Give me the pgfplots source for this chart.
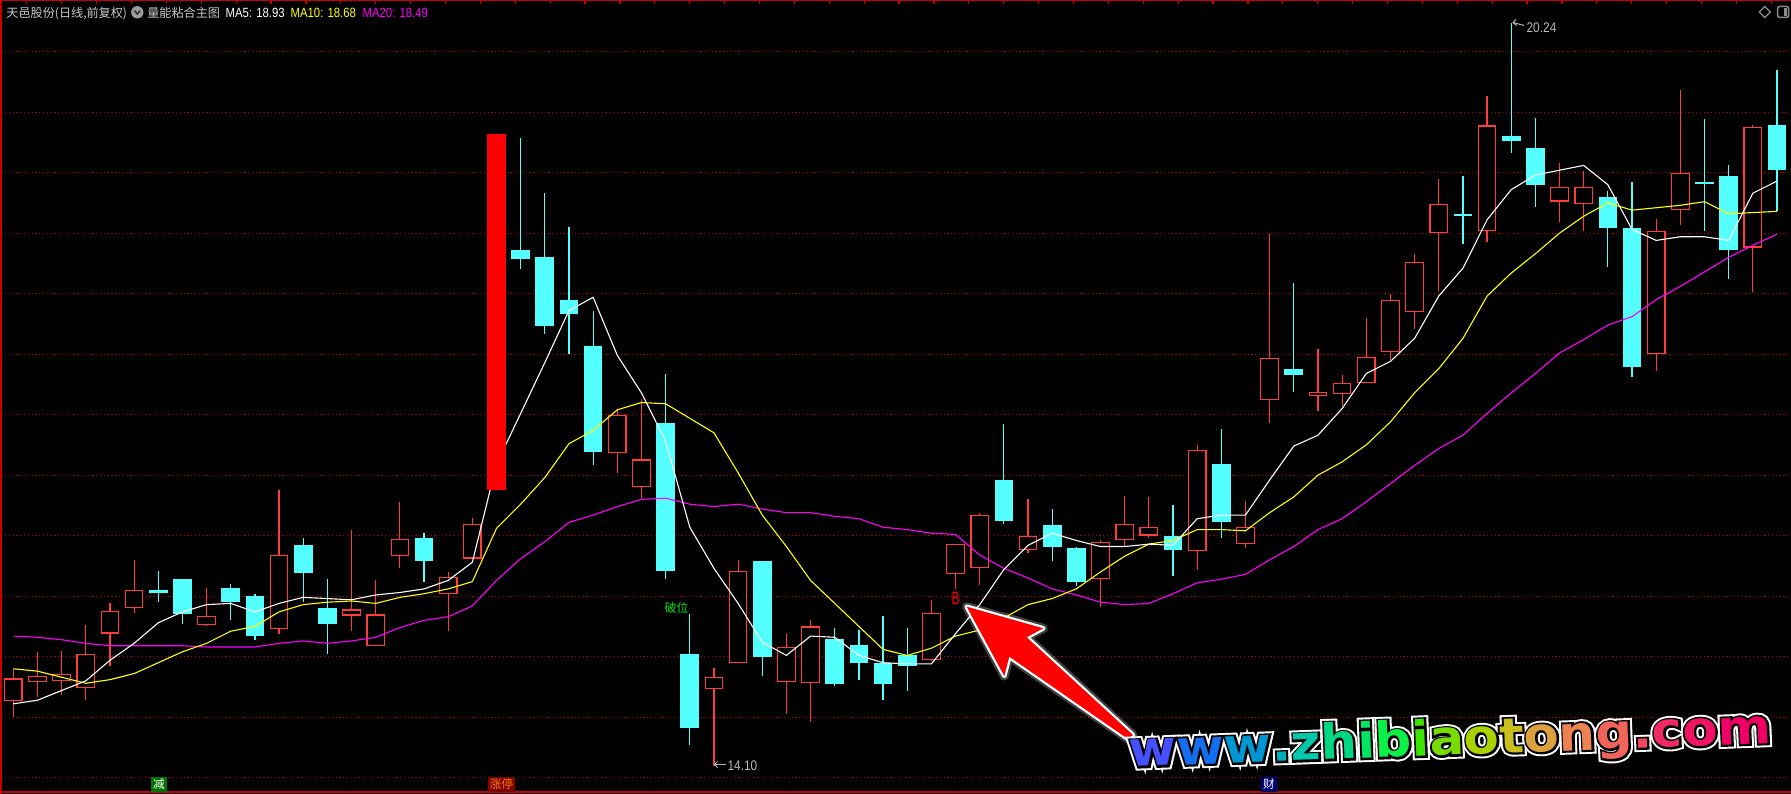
\documentclass[border=0pt]{standalone}
\usepackage{fontspec}
\setmainfont{Liberation Sans}
\newfontfamily\cjk{Noto Sans CJK SC}
\newfontfamily\wmfont{DejaVu Sans Bold}
\newfontfamily\wmfontA{DejaVu Sans Bold}[FakeBold=16]
\newfontfamily\wmfontB{DejaVu Sans Bold}[FakeBold=8]
\usepackage{pgfplots}
\usepackage{pgfplotstable}
\pgfplotsset{compat=1.18}

\definecolor{upred}{RGB}{255,60,60}
\definecolor{limitred}{RGB}{255,0,0}
\definecolor{dncyan}{RGB}{84,255,255}
\definecolor{gridred}{RGB}{175,0,0}
\definecolor{framered}{RGB}{200,0,0}
\definecolor{hdrgray}{RGB}{200,200,200}
\definecolor{lblgray}{RGB}{185,185,185}
\definecolor{icongray}{RGB}{140,140,140}
\definecolor{ma10c}{RGB}{255,255,0}
\definecolor{ma20c}{RGB}{255,0,255}
\definecolor{bwgreen}{RGB}{0,225,0}
% watermark letters
\definecolor{wa}{RGB}{70,80,255}
\definecolor{wb}{RGB}{20,110,240}
\definecolor{wc}{RGB}{0,150,210}
\definecolor{wd}{RGB}{0,175,190}
\definecolor{we}{RGB}{0,200,170}
\definecolor{wf}{RGB}{0,215,130}
\definecolor{wg}{RGB}{0,230,100}
\definecolor{wh}{RGB}{10,240,70}
\definecolor{wi}{RGB}{60,230,0}
\definecolor{wj}{RGB}{120,220,0}
\definecolor{wk}{RGB}{170,210,0}
\definecolor{wl}{RGB}{200,190,30}
\definecolor{wm}{RGB}{220,160,60}
\definecolor{wn}{RGB}{235,130,80}
\definecolor{wo}{RGB}{240,100,90}
\definecolor{wp}{RGB}{240,70,100}
\definecolor{wq}{RGB}{240,40,100}
\definecolor{wr}{RGB}{240,20,100}
\definecolor{ws}{RGB}{240,0,100}

\newcommand\wmstr{\wmc{wa}{w}\wmc{wb}{w}\wmc{wc}{w}\wmc{wd}{.}\wmc{we}{z}\wmc{wf}{h}\wmc{wg}{i}\wmc{wh}{b}\wmc{wi}{i}\wmc{wj}{a}\wmc{wk}{o}\wmc{wl}{t}\wmc{wm}{o}\wmc{wn}{n}\wmc{wo}{g}\wmc{wp}{.}\wmc{wq}{c}\wmc{wr}{o}\wmc{ws}{m}}
\newcommand\wmplain[2]{\textcolor{.}{#2}}
\newcommand\wmcolor[2]{\textcolor{#1}{#2}}

% up candles (close > open), hollow red
\pgfplotstableread{
i O H L C
0 14.63 14.90 14.50 14.82
1 14.79 15.04 14.67 14.84
2 14.80 15.05 14.68 14.86
3 14.74 15.26 14.64 15.02
4 15.19 15.44 14.92 15.38
5 15.40 15.80 15.36 15.55
8 15.26 15.57 15.25 15.34
11 15.23 16.38 15.19 15.84
14 15.34 16.05 15.21 15.39
15 15.09 15.63 15.09 15.35
16 15.83 16.28 15.73 15.97
18 15.52 15.70 15.21 15.66
19 15.81 16.15 15.81 16.10
25 16.68 17.04 16.52 17.00
26 16.40 17.13 16.31 16.63
29 14.73 14.91 14.10 14.83
30 14.95 15.80 14.95 15.71
32 14.79 15.19 14.53 15.08
33 14.78 15.30 14.46 15.25
38 14.97 15.47 14.96 15.36
39 15.68 15.93 15.56 15.93
40 15.73 16.19 15.59 16.17
42 15.88 16.30 15.86 16.00
45 15.64 15.96 15.41 15.95
46 15.96 16.33 15.91 16.10
47 16.00 16.32 15.98 16.07
49 15.87 16.75 15.72 16.71
51 15.93 16.29 15.90 16.07
52 17.12 18.49 16.93 17.47
54 17.15 17.54 17.03 17.19
55 17.17 17.33 17.07 17.26
56 17.26 17.80 17.26 17.48
57 17.52 18.00 17.45 17.95
58 17.85 18.33 17.71 18.26
59 18.50 18.95 18.02 18.74
61 18.52 19.63 18.43 19.39
64 18.76 19.08 18.59 18.88
65 18.74 19.01 18.52 18.88
68 17.50 18.62 17.36 18.52
69 18.69 19.68 18.57 19.00
72 18.38 19.39 18.01 19.38
}\upt

% limit-up day, solid red
\pgfplotstableread{
i O H L C
20 16.38 19.32 16.38 19.32
}\limt

% down candles, filled cyan
\pgfplotstableread{
i O H L C
6 15.55 15.71 15.45 15.53
7 15.64 15.64 15.27 15.35
9 15.57 15.60 15.30 15.45
10 15.50 15.52 15.14 15.17
12 15.92 15.98 15.45 15.69
13 15.40 15.64 15.02 15.27
17 15.98 16.02 15.62 15.79
21 18.36 19.29 18.20 18.29
22 18.30 18.83 17.67 17.73
23 17.95 18.55 17.50 17.83
24 17.57 17.86 16.58 16.69
27 16.93 17.34 15.64 15.71
28 15.02 15.35 14.27 14.41
31 15.79 15.79 14.84 15.00
34 15.15 15.24 14.76 14.77
35 15.10 15.22 14.81 14.95
36 14.95 15.34 14.64 14.77
37 15.01 15.24 14.72 14.92
41 16.46 16.92 16.10 16.12
43 16.09 16.22 15.79 15.91
44 15.90 15.91 15.58 15.62
48 16.00 16.25 15.67 15.88
50 16.59 16.88 15.98 16.11
53 17.38 18.09 17.19 17.33
60 18.66 18.97 18.41 18.64
62 19.30 20.24 19.16 19.26
63 19.20 19.45 18.72 18.90
66 18.80 18.85 18.22 18.54
67 18.54 18.92 17.31 17.39
70 18.92 19.44 18.52 18.91
71 18.97 19.06 18.12 18.36
73 19.39 19.85 18.68 19.02
}\dnt

% moving averages
\pgfplotstableread{
i m5 m10 m20
0 14.61 14.90 15.17
1 14.64 14.88 15.16
2 14.72 14.83 15.14
3 14.80 14.78 15.11
4 14.97 14.81 15.09
5 15.11 14.86 15.09
6 15.28 14.95 15.09
7 15.37 15.04 15.09
8 15.43 15.11 15.08
9 15.44 15.21 15.08
10 15.37 15.25 15.08
11 15.44 15.37 15.11
12 15.49 15.43 15.13
13 15.48 15.45 15.11
14 15.47 15.46 15.13
15 15.51 15.44 15.16
16 15.53 15.49 15.24
17 15.56 15.52 15.30
18 15.63 15.56 15.33
19 15.78 15.62 15.42
20 16.59 16.06 15.63
21 17.01 16.26 15.81
22 17.43 16.48 15.95
23 17.86 16.76 16.11
24 17.97 16.87 16.17
25 17.49 17.04 16.24
26 17.18 17.10 16.30
27 16.78 17.09 16.31
28 16.07 16.97 16.26
29 15.73 16.85 16.24
30 15.44 16.52 16.26
31 15.12 16.17 16.22
32 15.01 15.91 16.19
33 15.17 15.63 16.19
34 15.16 15.44 16.16
35 15.01 15.25 16.14
36 14.95 15.06 16.07
37 14.94 15.01 16.05
38 14.94 15.07 16.02
39 15.19 15.17 16.01
40 15.43 15.22 15.84
41 15.72 15.32 15.73
42 15.92 15.43 15.65
43 16.02 15.48 15.56
44 15.96 15.56 15.51
45 15.91 15.70 15.45
46 15.91 15.83 15.43
47 15.93 15.93 15.44
48 15.92 15.96 15.52
49 16.14 16.05 15.61
50 16.17 16.05 15.64
51 16.17 16.04 15.68
52 16.46 16.19 15.80
53 16.74 16.32 15.91
54 16.83 16.50 16.05
55 17.05 16.61 16.14
56 17.34 16.75 16.28
57 17.44 16.94 16.43
58 17.63 17.18 16.58
59 17.98 17.38 16.72
60 18.21 17.63 16.83
61 18.61 17.98 17.01
62 18.86 18.17 17.18
63 18.98 18.33 17.34
64 19.02 18.50 17.51
65 19.06 18.64 17.62
66 18.90 18.75 17.74
67 18.53 18.69 17.81
68 18.44 18.71 17.95
69 18.47 18.73 18.06
70 18.47 18.76 18.18
71 18.44 18.66 18.30
72 18.83 18.67 18.40
73 18.93 18.68 18.49
}\mat

\pgfplotsset{
  wick/.style={draw=none, mark=none, forget plot,
    error bars/.cd, y dir=both, y explicit, error mark=none,
    error bar style={draw=#1, line width=0.12mm}},
  body/.style 2 args={draw=none, mark=none, forget plot,
    error bars/.cd, y dir=both, y explicit, error mark=none,
    error bar style={draw=#1, line width=#2}},
}

\begin{document}
\begin{tikzpicture}
\begin{axis}[
  at={(0,0)}, anchor=south west, scale only axis,
  width=179.1mm, height=79.4mm,
  xmin=-0.5505, xmax=73.58, ymin=13.865, ymax=20.427,
  axis background/.style={fill=black},
  axis line style={draw=none},
  xtick=\empty, ytick=\empty,
  clip=false,
]
% dotted price grid every 0.5
\pgfplotsinvokeforeach{14,14.5,15,15.5,16,16.5,17,17.5,18,18.5,19,19.5,20}{
  \draw[gridred, line width=0.12mm, dash pattern=on 0.12mm off 0.26mm]
    (axis cs:-0.5,#1) -- (axis cs:73.58,#1);
}
% wicks
\addplot[wick=upred] table[x=i, y expr={(\thisrow{H}+\thisrow{L})/2}, y error expr={(\thisrow{H}-\thisrow{L})/2}] {\upt};
\addplot[wick=dncyan] table[x=i, y expr={(\thisrow{H}+\thisrow{L})/2}, y error expr={(\thisrow{H}-\thisrow{L})/2}] {\dnt};
% hollow red bodies: red bar, then black inside
\addplot[body={upred}{1.87mm}] table[x=i, y expr={(\thisrow{O}+\thisrow{C})/2}, y error expr={max(abs(\thisrow{C}-\thisrow{O})/2,0.006)}] {\upt};
\addplot[body={black}{1.63mm}] table[x=i, y expr={(\thisrow{O}+\thisrow{C})/2}, y error expr={max(abs(\thisrow{C}-\thisrow{O})/2-0.0099,0.0004)}] {\upt};
% cyan bodies
\addplot[body={dncyan}{1.87mm}] table[x=i, y expr={(\thisrow{O}+\thisrow{C})/2}, y error expr={max(abs(\thisrow{C}-\thisrow{O})/2,0.006)}] {\dnt};
% moving averages
\addplot[ma20c, line width=0.11mm] table[x=i, y=m20] {\mat};
\addplot[ma10c, line width=0.11mm] table[x=i, y=m10] {\mat};
\addplot[white, line width=0.11mm] table[x=i, y=m5] {\mat};
% limit-up bar on top
\addplot[body={limitred}{1.87mm}] table[x=i, y expr={(\thisrow{O}+\thisrow{C})/2}, y error expr={abs(\thisrow{C}-\thisrow{O})/2}] {\limt};
\end{axis}

% decorations, in pixel units from the top-left corner
\begin{scope}[shift={(0mm,79.4mm)}, x=0.1mm, y=-0.1mm]
  % frame
  \draw[framered, line width=0.15mm] (1.2,0) -- (1.2,794);
  \draw[framered, line width=0.15mm] (0,0.75) -- (1791,0.75);
  \draw[framered, line width=0.2mm] (0,792.5) -- (1791,792.5);
  \foreach \k in {0,...,50} \draw[framered, line width=0.12mm] ({26.8+34.89*\k},0) -- ++(0,4);

  % header
  \node[anchor=base west, inner sep=0pt, text=hdrgray, font=\cjk\fontsize{3.45pt}{4pt}\selectfont] at (5.7,17.5) {天邑股份(日线,前复权)};
  \fill[icongray!85] (137.3,12.3) circle[radius=0.62mm];
  \draw[black!80, line width=0.16mm] (134.5,10.6) -- (137.3,13.9) -- (140.1,10.6);
  \node[anchor=base west, inner sep=0pt, text=hdrgray, font=\cjk\fontsize{3.45pt}{4pt}\selectfont] at (146.6,17.5) {量能粘合主图};
  \node[anchor=base west, inner sep=0pt, text=white, xscale=0.85, font=\fontsize{3.8pt}{4pt}\selectfont] at (225,17.5) {MA5: 18.93};
  \node[anchor=base west, inner sep=0pt, text=ma10c, xscale=0.85, font=\fontsize{3.8pt}{4pt}\selectfont] at (290,17.5) {MA10: 18.68};
  \node[anchor=base west, inner sep=0pt, text=ma20c, xscale=0.85, font=\fontsize{3.8pt}{4pt}\selectfont] at (362,17.5) {MA20: 18.49};

  % top right icons
  \draw[icongray, line width=0.12mm] (1764.7,6.5) -- (1770.2,12) -- (1764.7,17.5) -- (1759.2,12) -- cycle;
  \draw[icongray, line width=0.15mm, rounded corners=0.2mm] (1777.7,6.5) rectangle (1788.5,17.5);
  \fill[icongray] (1783.6,8.2) rectangle (1786.9,15.8);

  % price labels
  \draw[lblgray, line width=0.1mm] (1513,22.5) -- (1524,25.5);
  \draw[lblgray, line width=0.1mm] (1516,19.5) -- (1513,22.5) -- (1516.5,25.5);
  \node[anchor=west, inner sep=0pt, text=lblgray, xscale=0.85, font=\fontsize{3.98pt}{4pt}\selectfont] at (1526,27.2) {20.24};
  \draw[lblgray, line width=0.1mm] (714.5,764.5) -- (726,764.5);
  \draw[lblgray, line width=0.1mm] (717.5,761.5) -- (714.5,764.5) -- (717.5,767.5);
  \node[anchor=west, inner sep=0pt, text=lblgray, xscale=0.85, font=\fontsize{3.98pt}{4pt}\selectfont] at (727,766) {14.10};

  % signal texts
  \node[inner sep=0pt, text=bwgreen, font=\cjk\fontsize{3.4pt}{4pt}\selectfont] at (676.5,607.5) {破位};
  \node[inner sep=0pt, text=limitred, xscale=0.68, font=\fontsize{5.1pt}{6pt}\selectfont] at (955.8,598.3) {B};

  % bottom markers
  \node[inner sep=0.2mm, fill=green!45!black, text=white, font=\cjk\fontsize{3.3pt}{4pt}\selectfont] at (159,784.5) {减};
  \node[inner sep=0.2mm, fill=red!50!black, text=orange, font=\cjk\fontsize{3.3pt}{4pt}\selectfont] at (501.5,784.5) {涨停};
  \node[inner sep=0.2mm, fill=blue!45!black, text=white, font=\cjk\fontsize{3.3pt}{4pt}\selectfont] at (1269,784.5) {财};

  % big arrow
  \def\arrowpath{(966.7,606.7) -- (1043.3,628.3) -- (1026.7,637.3) -- (1133,735) -- (1128,739) -- (1009.3,656.7) -- (1004.3,676) -- cycle}
  \draw[white, opacity=0.25, line width=0.9mm, line join=round] \arrowpath;
  \draw[white, line width=0.45mm, line join=round] \arrowpath;
  \fill[limitred] \arrowpath;

  % watermark: white halo, black rim, coloured letters
  \tikzset{wmk/.style={anchor=base west, inner sep=0pt, xscale=1.06, rotate=2.25}}
  \node[wmk, text=white, font=\wmfontA\fontsize{13.8pt}{14pt}\selectfont] at (1129,767) {\let\wmc\wmplain\wmstr};
  \node[wmk, text=black, font=\wmfontB\fontsize{13.8pt}{14pt}\selectfont] at (1129,767) {\let\wmc\wmplain\wmstr};
  \node[wmk, font=\wmfont\fontsize{13.8pt}{14pt}\selectfont] at (1129,767) {\let\wmc\wmcolor\wmstr};
\end{scope}

\pgfresetboundingbox
\path[use as bounding box] (0,0) rectangle (179.1mm,79.4mm);
\end{tikzpicture}
\end{document}
